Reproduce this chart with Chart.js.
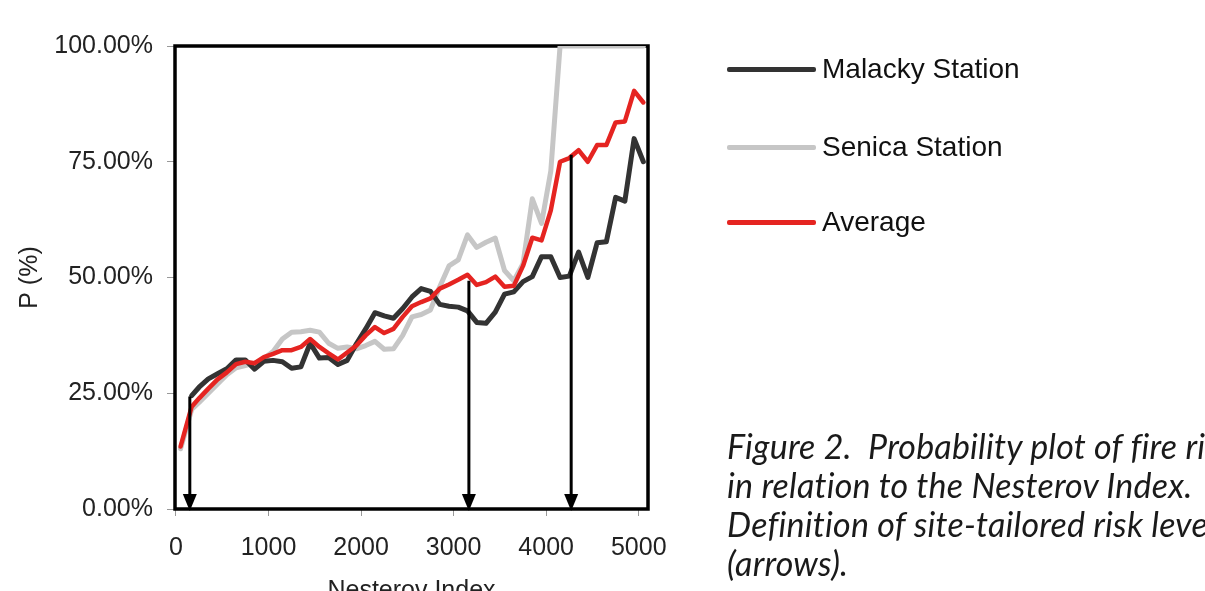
<!DOCTYPE html>
<html>
<head>
<meta charset="utf-8">
<script src="https://cdn.jsdelivr.net/npm/chart.js@4"></script>
<style>
  html, body { margin: 0; padding: 0; background: #fff; width: 1205px; height: 591px; overflow: hidden; }
  #wrap { position: relative; width: 1205px; height: 591px; overflow: hidden; }
  #chart { position: absolute; left: 0; top: 0; }
  #legend { position: absolute; left: 727px; top: 0; font-family: 'Liberation Sans', Arial, sans-serif; font-size: 28px; color: #111; }
  .item { position: absolute; left: 0; height: 40px; display: flex; align-items: center; white-space: nowrap; }
  .swatch { width: 89px; height: 5px; margin-right: 6px; border-radius: 2px; }
  #caption { position: absolute; left: 727px; top: 426px; font-family: Lato, 'Open Sans', sans-serif; font-style: italic;
             font-size: 34px; letter-spacing: 0.2px; line-height: 39px; color: #1a1a1a; white-space: pre; }
</style>
</head>
<body>
<div id="wrap">
  <canvas id="chart" width="1205" height="606"></canvas>
  <div id="legend"></div>
  <div id="caption">Figure 2.  Probability plot of fire risk
in relation to the Nesterov Index.
Definition of site-tailored risk levels
(arrows).</div>
</div>
<script>
'use strict';

// >>> data <<<
const nesterovIndex = [50, 170, 250, 350, 450, 550, 650, 750, 850, 950,
  1050, 1150, 1250, 1350, 1450, 1550, 1650, 1750, 1850, 1950,
  2050, 2150, 2250, 2350, 2450, 2550, 2650, 2750, 2850, 2950,
  3050, 3150, 3250, 3350, 3450, 3550, 3650, 3750, 3850, 3950,
  4050, 4150, 4250, 4350, 4450, 4550, 4650, 4750, 4850, 4950, 5050];

const malackyP = [null, 24.5, 26.3, 28.1, 29.2, 30.3, 32.2, 32.2, 30.2, 31.9,
  32.1, 31.8, 30.4, 30.7, 35.8, 32.6, 32.7, 31.2, 32.1, 35.7,
  38.9, 42.4, 41.7, 41.2, 43.3, 45.8, 47.6, 47, 44.2, 43.8,
  43.6, 42.8, 40.3, 40.1, 42.5, 46.4, 46.9, 49.1, 50.2, 54.5,
  54.5, 50, 50.3, 55.5, 50, 57.5, 57.7, 67.3, 66.5, 80, 75];

const senicaP = [13, 21.5, 23, 25, 27, 29, 30.5, 31, 31.5, 32.5,
  34, 36.7, 38.2, 38.3, 38.6, 38.2, 35.8, 34.7, 35, 34.6,
  35.3, 36.2, 34.5, 34.6, 37.5, 41.5, 42, 43, 48, 52.5,
  53.8, 59.2, 56.5, 57.6, 58.5, 51.5, 49.3, 53, 67, 61.7,
  73, 100, 100, 100, 100, 100, 100, 100, 100, 100, 100];

const averageP = [13.5, 22.1, 23.9, 26, 28, 29.5, 31.3, 31.8, 31.5, 32.8,
  33.5, 34.3, 34.3, 35, 36.7, 35, 33.6, 32.3, 33.8, 35.3,
  37.5, 39.3, 38, 38.9, 41.5, 43.8, 44.7, 45.5, 47.6, 48.5,
  49.5, 50.6, 48.4, 49, 50.2, 48, 48.2, 52.5, 58.6, 58,
  64.5, 75, 75.8, 77.5, 75, 78.6, 78.6, 83.5, 83.7, 90.3, 87.8];

const xTicks = [0, 1000, 2000, 3000, 4000, 5000];
const yTicks = [0, 25, 50, 75, 100];

// risk level arrows (Nesterov index, top of arrow in %)
const arrowIndex = [150, 3165, 4270];
const arrowTopP = [24.3, 49.3, 76.5];

const fontFamily = "'Liberation Sans', Arial, sans-serif";

function toPoints(values) {
  return nesterovIndex.map((x, i) => ({ x: x, y: values[i] }));
}

// box round the plot + the arrows
const frameAndArrows = {
  id: 'frameAndArrows',
  beforeDatasetsDraw(chart) {
    const { ctx, chartArea: a } = chart;
    ctx.save();
    ctx.strokeStyle = '#000';
    ctx.lineWidth = 3.5;
    ctx.strokeRect(a.left, a.top, a.right - a.left, a.bottom - a.top);
    ctx.restore();
  },
  afterDatasetsDraw(chart) {
    const { ctx, scales } = chart;
    ctx.save();
    ctx.strokeStyle = '#000';
    ctx.fillStyle = '#000';
    ctx.lineWidth = 3;
    for (let i = 0; i < arrowIndex.length; i++) {
      const x = scales.x.getPixelForValue(arrowIndex[i]);
      const yTop = scales.y.getPixelForValue(arrowTopP[i]);
      const yBot = scales.y.getPixelForValue(0);
      ctx.beginPath();
      ctx.moveTo(x, yTop);
      ctx.lineTo(x, yBot - 12);
      ctx.stroke();
      ctx.beginPath();
      ctx.moveTo(x - 7, yBot - 15);
      ctx.lineTo(x + 7, yBot - 15);
      ctx.lineTo(x, yBot + 2);
      ctx.closePath();
      ctx.fill();
    }
    ctx.restore();
  }
};

const ctx = document.getElementById('chart').getContext('2d');

const chart = new Chart(ctx, {
  type: 'line',
  data: {
    datasets: [
      { label: 'Malacky Station', data: toPoints(malackyP), borderColor: '#333333', borderWidth: 5, order: 1 },
      { label: 'Senica Station', data: toPoints(senicaP), borderColor: '#c6c6c6', borderWidth: 5, order: 2 },
      { label: 'Average', data: toPoints(averageP), borderColor: '#e52421', borderWidth: 4.5, order: 0 }
    ]
  },
  options: {
    responsive: false,
    animation: false,
    layout: { padding: { top: 46, right: 557, left: 0, bottom: 0 } },
    elements: {
      point: { radius: 0 },
      line: { tension: 0, borderJoinStyle: 'round', borderCapStyle: 'round' }
    },
    plugins: {
      legend: { display: false },
      tooltip: { enabled: false }
    },
    scales: {
      x: {
        type: 'linear',
        min: -10,
        max: 5100,
        afterFit: (s) => { s.height = 606 - 509; },
        afterBuildTicks: (s) => { s.ticks = xTicks.map(v => ({ value: v })); },
        grid: { drawOnChartArea: false, tickLength: 7, color: '#999' },
        border: { display: false },
        ticks: { padding: 17, color: '#222', autoSkip: false, maxRotation: 0, font: { size: 25, family: fontFamily },
                 callback: (v) => String(v) },
        title: { display: true, text: 'Nesterov Index', color: '#222', font: { size: 25, family: fontFamily }, padding: { top: -4, bottom: 0 } }
      },
      y: {
        min: 0,
        max: 100,
        afterFit: (s) => { s.width = 175; },
        afterBuildTicks: (s) => { s.ticks = yTicks.map(v => ({ value: v })); },
        grid: { drawOnChartArea: false, tickLength: 8, color: '#999' },
        border: { display: false },
        ticks: { padding: 14, color: '#222', font: { size: 25, family: fontFamily }, callback: (v) => v.toFixed(2) + '%' },
        title: { display: true, text: 'P (%)', color: '#222', font: { size: 25, family: fontFamily }, padding: { top: 15, bottom: 0 } }
      }
    }
  },
  plugins: [frameAndArrows]
});

// >>> legend on the right, built from the datasets <<<
const legendRows = [69, 147, 222];
const legendDiv = document.getElementById('legend');
chart.data.datasets.forEach((ds, i) => {
  const item = document.createElement('div');
  item.className = 'item';
  item.style.top = (legendRows[i] - 20) + 'px';
  const sw = document.createElement('span');
  sw.className = 'swatch';
  sw.style.background = ds.borderColor;
  const label = document.createElement('span');
  label.textContent = ds.label;
  item.appendChild(sw);
  item.appendChild(label);
  legendDiv.appendChild(item);
});
</script>
</body>
</html>
